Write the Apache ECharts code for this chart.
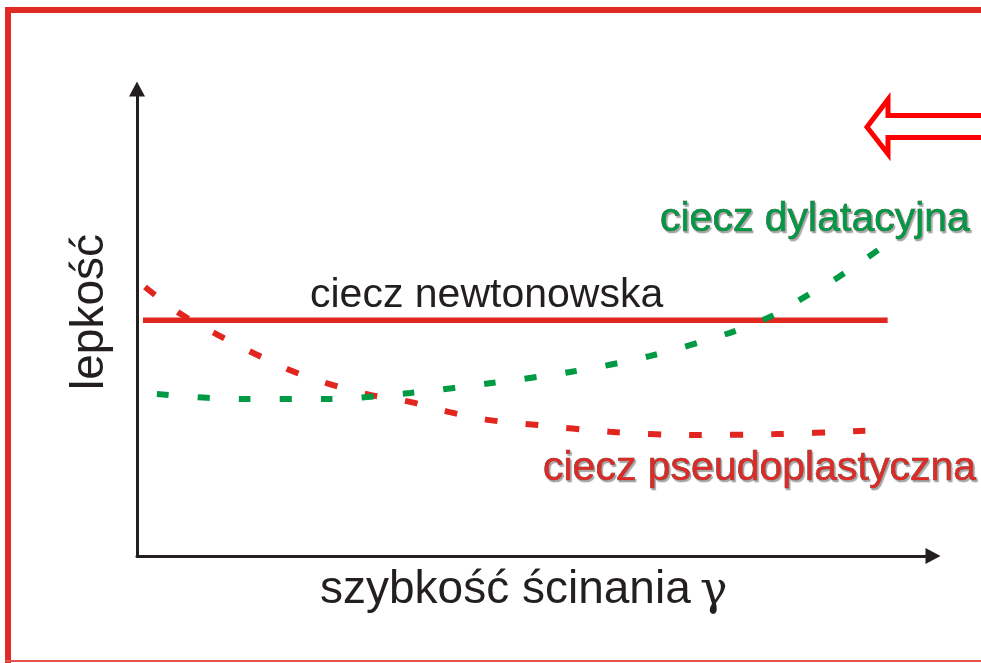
<!DOCTYPE html>
<html>
<head>
<meta charset="utf-8">
<script src="https://cdn.jsdelivr.net/npm/echarts@6/dist/echarts.min.js"></script>
<style>
  html, body { margin: 0; padding: 0; background: #fff; }
  #chart { width: 981px; height: 663px; }
</style>
</head>
<body>
<div id="chart"></div>
<script>
// shear rate (x) vs viscosity (y), both in arbitrary 0-100 units
const newtonX = [0.75, 94.3];
const newtonY = [50.5, 50.5];

const pseudoX = [1.0, 5.5, 10.2, 14.8, 19.5, 24.2, 29.3, 34.3, 39.3, 44.3, 50.0, 59.4, 69.5, 80.2, 91.5];
const pseudoY = [57.6, 51.8, 47.3, 43.3, 39.6, 36.8, 34.5, 33.0, 30.8, 29.1, 28.1, 26.6, 25.9, 26.1, 26.8];

const dilatX = [2.5, 12.9, 23.6, 34.3, 44.3, 54.4, 64.4, 74.5, 79.5, 83.9, 88.1, 93.1];
const dilatY = [34.7, 33.6, 33.6, 34.9, 37.0, 39.4, 42.8, 47.8, 51.2, 55.5, 59.7, 65.5];

const labels = {
  newton: 'ciecz newtonowska',
  dilat: 'ciecz dylatacyjna',
  pseudo: 'ciecz pseudoplastyczna',
  xName: 'szybkość ścinania',
  yName: 'lepkość',
};

const red = '#e0261f';
const green = '#009a44';
const axisColor = '#231f20';
const font = '"Liberation Sans", Arial, sans-serif';

const zip = (xs, ys) => xs.map((x, i) => [x, ys[i]]);

const chart = echarts.init(document.getElementById('chart'));

const valueAxis = {
  type: 'value',
  min: 0,
  max: 100,
  axisLine: {
    show: true,
    symbol: ['none', 'triangle'],
    symbolSize: [16, 15],
    lineStyle: { color: axisColor, width: 3 },
  },
  axisTick: { show: false },
  axisLabel: { show: false },
  splitLine: { show: false },
};

const outlined = (color) => ({
  fill: color,
  stroke: '#3b2a22',
  lineWidth: 0.6,
  textShadowColor: 'rgba(130,130,130,0.7)',
  textShadowBlur: 1,
  textShadowOffsetX: 1.5,
  textShadowOffsetY: 1.5,
});

const option = {
  backgroundColor: '#fff',
  animation: false,
  grid: { left: 137, right: 48, top: 89, bottom: 107 },
  xAxis: Object.assign({}, valueAxis),
  yAxis: Object.assign({}, valueAxis),
  series: [
    {
      name: labels.newton,
      type: 'line',
      data: zip(newtonX, newtonY),
      symbol: 'none',
      lineStyle: { color: red, width: 5.5 },
    },
    {
      name: labels.pseudo,
      type: 'line',
      data: zip(pseudoX, pseudoY),
      symbol: 'none',
      smooth: 0.3,
      lineStyle: { color: red, width: 6, type: [13, 28], cap: 'butt' },
    },
    {
      name: labels.dilat,
      type: 'line',
      data: zip(dilatX, dilatY),
      symbol: 'none',
      smooth: 0.3,
      lineStyle: { color: green, width: 6, type: [12, 29], cap: 'butt' },
    },
  ],
  graphic: [
    // slide frame
    { type: 'rect', shape: { x: 5, y: 7, width: 976, height: 6 }, style: { fill: '#df2a26' } },
    { type: 'rect', shape: { x: 5, y: 7, width: 6, height: 656 }, style: { fill: '#df2a26' } },
    { type: 'rect', shape: { x: 5, y: 660, width: 976, height: 2 }, style: { fill: '#e5534f' } },
    // hollow arrow, top right
    {
      type: 'polygon',
      shape: {
        points: [[867, 127], [888, 99.5], [888, 115.5], [990, 115.5], [990, 137.5], [888, 137.5], [888, 154]],
      },
      style: { fill: '#fff', stroke: '#ff0000', lineWidth: 5, lineJoin: 'miter' },
    },
    // texts
    {
      type: 'text', x: 310, y: 296,
      style: { text: labels.newton, font: '41px ' + font, fill: '#231f20', verticalAlign: 'middle' },
    },
    {
      type: 'text', x: 660, y: 220,
      style: Object.assign({ text: labels.dilat, font: '41px ' + font, verticalAlign: 'middle' }, outlined(green)),
    },
    {
      type: 'text', x: 543, y: 469,
      style: Object.assign({ text: labels.pseudo, font: '41px ' + font, verticalAlign: 'middle' }, outlined('#dd2a26')),
    },
    {
      type: 'text', x: 320, y: 590,
      style: { text: labels.xName, font: '46px ' + font, fill: '#231f20', verticalAlign: 'middle' },
    },
    {
      type: 'text', x: 700, y: 592,
      style: { text: 'γ', font: '46px "DejaVu Serif", "Liberation Serif", serif', fill: '#231f20', verticalAlign: 'middle' },
    },
    {
      type: 'text', x: 90, y: 312, rotation: Math.PI / 2,
      style: { text: labels.yName, font: '46px ' + font, fill: '#231f20', align: 'center', verticalAlign: 'middle' },
    },
  ],
};

chart.setOption(option);
</script>
</body>
</html>
